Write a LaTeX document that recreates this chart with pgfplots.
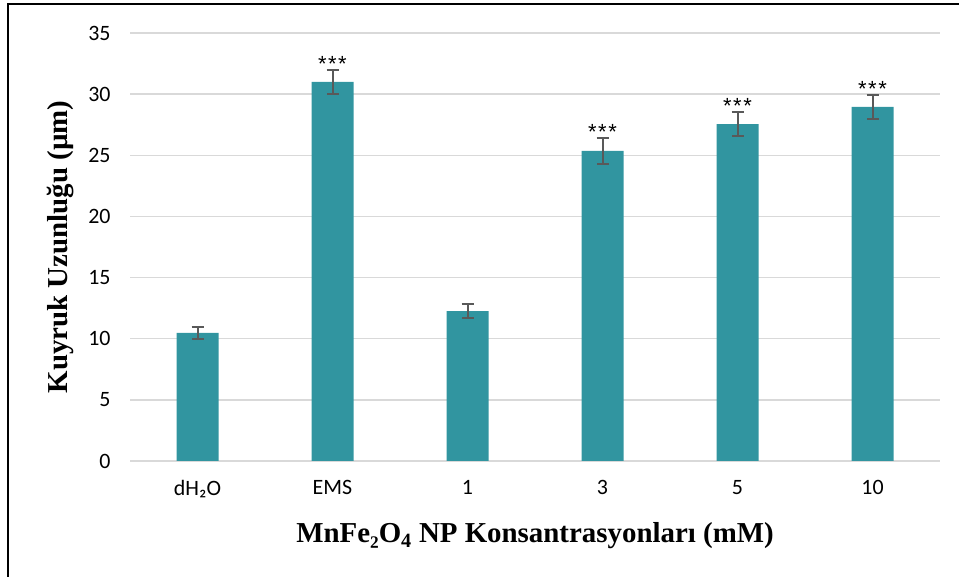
\documentclass[border=0pt]{standalone}
\usepackage{fontspec}
\setmainfont{Liberation Serif}
\newfontfamily\calibri{Carlito}
\newfontfamily\arial{Liberation Sans}
\usepackage{pgfplots}
\pgfplotsset{compat=1.18}
\definecolor{barc}{RGB}{49,149,160}
\definecolor{errc}{RGB}{89,89,89}
\definecolor{gridc}{RGB}{217,217,217}
\begin{document}
\begin{tikzpicture}[x=1bp,y=1bp]
\useasboundingbox (0,0) rectangle (959,577);
\draw[line width=2bp] (8,0) -- (8,573) -- (959,573);
\begin{axis}[
  at={(130bp,116bp)}, anchor=south west,
  scale only axis, width=810bp, height=428bp,
  xmin=-0.5, xmax=5.5, ymin=0, ymax=35,
  ytick={0,5,...,35},
  xtick={0,...,5},
  xticklabels={dH₂O,EMS,1,3,5,10},
  axis line style={draw=none},
  major tick length=0pt,
  ymajorgrids, grid style={gridc, line width=1.5bp},
  /pgf/number format/assume math mode=true,
  tick label style={font=\calibri\fontsize{22}{26}\selectfont, text=black},
  yticklabel style={xshift=-16bp},
  xticklabel style={yshift=-16bp},
  label style={font=\bfseries\fontsize{29}{32}\selectfont},
  xlabel={MnFe₂O\textsubscript{4} NP Konsantrasyonları (mM)},
  ylabel={Kuyruk Uzunluğu (µm)},
  xlabel style={at={(axis description cs:0.5,-0.175)}, anchor=center},
  ylabel style={at={(axis description cs:-0.0852,0.5)}, anchor=center},
  clip=false,
]
\addplot[ybar, bar width=42bp, fill=barc, draw=none,
  error bars/.cd, y dir=both, y explicit,
  error bar style={errc, line width=2bp},
  error mark options={errc, line width=2bp, mark size=6bp, rotate=90}]
  coordinates {
  (0,10.47) +- (0,0.5)
  (1,31.0) +- (0,1.0)
  (2,12.26) +- (0,0.6)
  (3,25.35) +- (0,1.1)
  (4,27.55) +- (0,1.0)
  (5,28.95) +- (0,1.0)
  };
\addplot[only marks, mark=none, nodes near coords, point meta=explicit symbolic,
  nodes near coords style={anchor=south, inner sep=0pt, yshift=-2bp, font=\arial\fontsize{22}{26}\selectfont}]
  coordinates {(1,32.0)[*\kern1.5bp*\kern1.5bp*] (3,26.45)[*\kern1.5bp*\kern1.5bp*] (4,28.55)[*\kern1.5bp*\kern1.5bp*] (5,29.95)[*\kern1.5bp*\kern1.5bp*]};
\end{axis}
\end{tikzpicture}
\end{document}
